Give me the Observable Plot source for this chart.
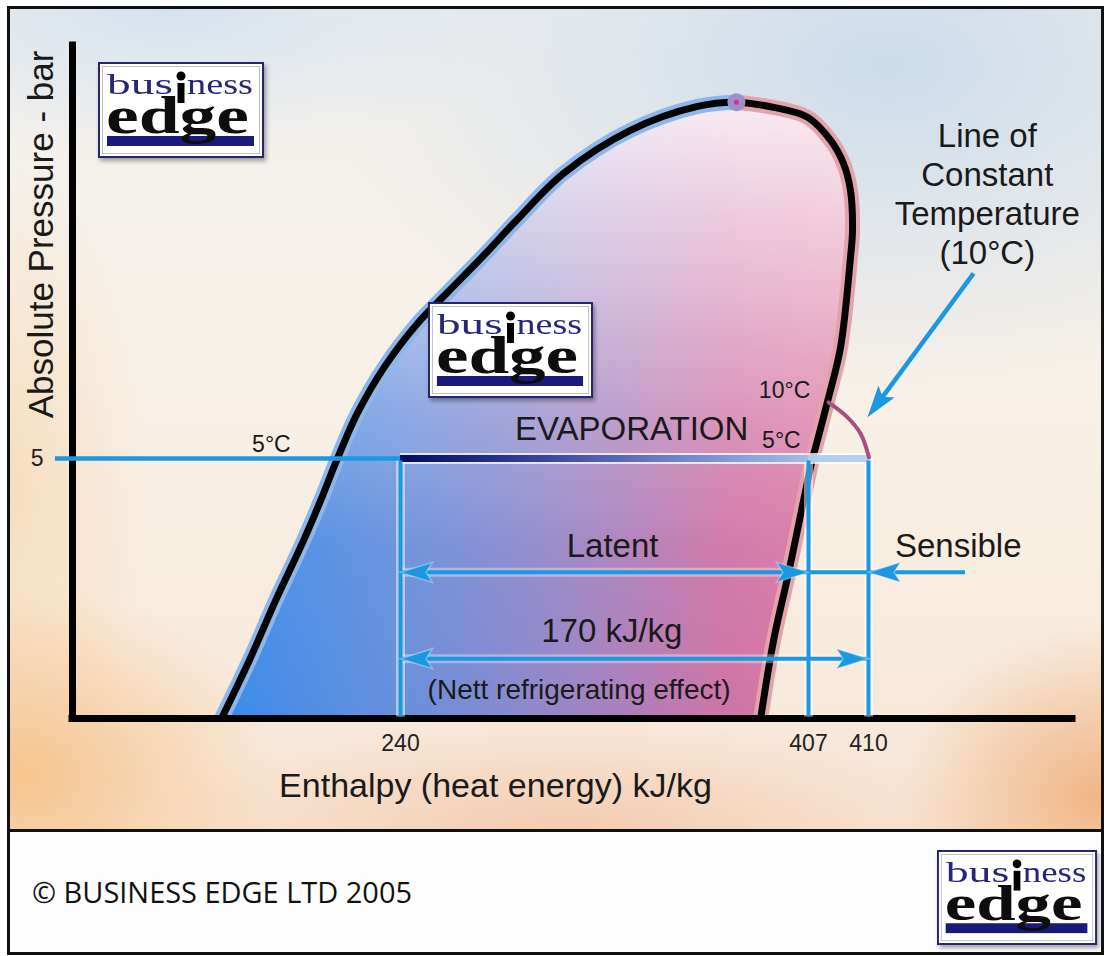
<!DOCTYPE html>
<html>
<head>
<meta charset="utf-8">
<script src="https://cdn.jsdelivr.net/npm/d3@7"></script>
<script src="https://cdn.jsdelivr.net/npm/@observablehq/plot@0.6"></script>
<style>
html,body{margin:0;padding:0;background:#fff;}
#wrap{position:relative;width:1104px;height:956px;overflow:hidden;font-family:"Liberation Sans",Arial,sans-serif;}
#bg{position:absolute;left:7px;top:6px;width:1097px;height:826px;
background:
 radial-gradient(ellipse 260px 190px at 15px 770px, rgba(246,192,135,.9), rgba(246,192,135,0)),
 radial-gradient(ellipse 200px 170px at 1090px 790px, rgba(240,176,126,.9), rgba(240,176,126,0)),
 radial-gradient(ellipse 430px 110px at 560px 820px, rgba(242,190,158,.65), rgba(242,190,158,0)),
 radial-gradient(ellipse 140px 320px at 0px 480px, rgba(245,214,172,.7), rgba(245,214,172,0)),
 radial-gradient(ellipse 560px 330px at 880px 60px, rgba(204,219,234,.95), rgba(204,219,234,0)),
 radial-gradient(ellipse 380px 150px at 160px 0px, rgba(212,225,238,.95), rgba(212,225,238,0)),
 linear-gradient(180deg, #f1f0ee 0%, #f8f1e8 45%, #f7e7d6 100%);}
#chart{position:absolute;left:0;top:0;}
#sep{position:absolute;left:7px;top:829px;width:1097px;height:3px;background:#111;}
#footer{position:absolute;left:7px;top:832px;width:1097px;height:124px;background:#fdfdfd;}
#border{position:absolute;left:7px;top:6px;width:1097px;height:949px;border:3px solid #111;box-sizing:border-box;pointer-events:none;}
.logo{position:absolute;filter:drop-shadow(2px 3px 2px rgba(0,0,0,.35));line-height:0;}
</style>
</head>
<body>
<div id="wrap">
  <div id="bg"></div>
  <div id="chart"></div>
  <div id="sep"></div>
  <div id="footer"></div>
  <div id="copy" style="position:absolute;left:0;top:832px;line-height:0;"></div>
  <div class="logo" id="logo1" style="left:98px;top:62px;"></div>
  <div class="logo" id="logo2" style="left:428px;top:302px;"></div>
  <div class="logo" id="logo3" style="left:937px;top:850px;"></div>
  <div id="border"></div>
</div>
<script>
// ---------- scale configuration (schematic enthalpy axis is piecewise) ----------
const xDomain = [100, 240, 407, 410, 450];
const xRange  = [72, 400, 808, 868, 1072];
const yDomain = [0, 12.94];
const yRange  = [718, 45];

// ---------- data (enthalpy kJ/kg, absolute pressure bar) ----------
const liquidSide = [
  {h:163.6, p:0}, {h:175.5, p:1.12}, {h:187.1, p:2.31}, {h:198.6, p:3.42},
  {h:205.9, p:4.19}, {h:213.1, p:5.0}, {h:221.6, p:5.87}, {h:233.6, p:6.79},
  {h:247.4, p:7.62}, {h:259.2, p:8.19}, {h:274.8, p:8.94}, {h:287.1, p:9.56},
  {h:306.7, p:10.48}, {h:334.1, p:11.31}, {h:361.6, p:11.77}, {h:377.5, p:11.85}
];
const vapourSide = [
  {h:377.5, p:11.85}, {h:392.7, p:11.75}, {h:406.6, p:11.56}, {h:408.1, p:11.12},
  {h:408.75, p:10.67}, {h:409.1, p:10.15}, {h:409.2, p:9.38}, {h:409.1, p:8.87},
  {h:408.6, p:7.13}, {h:408.0, p:6.17}, {h:407.35, p:5.21}, {h:407.2, p:5.0},
  {h:398.8, p:2.79}, {h:392.7, p:1.5}, {h:387.4, p:0}
];
const criticalPoint = {h:377.5, p:11.85};
const constTemp10 = [{h:408.0, p:6.08}, {h:408.9, p:5.81}, {h:409.6, p:5.48}, {h:410.1, p:5.02}];

const evapPressure = 5;
const hIn = 240, hSatVapour = 407, hOut = 410;
const enthalpyTicks = [240, 407, 410];
const pressureTicks = [5];
const guideStartH = 92.7;
const latentP = 2.81, nettP = 1.15;
const sensibleStartH = 429;
const pointerFrom = {h:430.6, p:8.56};
const pointerTo = {h:409.95, p:5.79};

const bigLabels = [
  {text:"Latent", h:326.8, p:3.30},
  {text:"170 kJ/kg", h:326.5, p:1.68},
  {text:"EVAPORATION", h:334.6, p:5.55},
  {text:"Sensible", h:427.6, p:3.30}
];
const noteLabel = [{text:"Line of\nConstant\nTemperature\n(10°C)", h:433.3, p:10.1}];
const tempLabels = [
  {text:"5°C", h:184.9, p:5.26},
  {text:"10°C", h:397.2, p:6.31},
  {text:"5°C", h:395.9, p:5.35}
];
const nettLabel = [{text:"(Nett refrigerating effect)", h:313.1, p:0.55}];
const yTitle = "Absolute Pressure - bar";
const xTitle = "Enthalpy (heat energy) kJ/kg";

// ---------- helpers ----------
const sx = d3.scaleLinear(xDomain, xRange);
const sy = d3.scaleLinear(yDomain, yRange);
function head(angle) {
  const L = 32, W = 10, N = 0.8;
  const c = Math.cos(angle), s = Math.sin(angle);
  const pts = [[0,0],[-L,-W],[-L*N,0],[-L,W]].map(([x,y]) => [x*c - y*s, x*s + y*c]);
  return {draw(ctx) { ctx.moveTo(pts[0][0], pts[0][1]); for (const q of pts.slice(1)) ctx.lineTo(q[0], q[1]); ctx.closePath(); }};
}
const headRight = head(0), headLeft = head(Math.PI);
const pointerAngle = Math.atan2(sy(pointerTo.p) - sy(pointerFrom.p), sx(pointerTo.h) - sx(pointerFrom.h));
const headPointer = head(pointerAngle);

const dome = [...liquidSide, ...vapourSide.slice(1)];
const BLUE = "#1b98e0";

const plot = Plot.plot({
  width: 1104, height: 830,
  marginLeft: 72, marginRight: 32, marginTop: 45, marginBottom: 112,
  x: {type: "linear", domain: xDomain, range: xRange},
  y: {type: "linear", domain: yDomain, range: yRange},
  style: {fontFamily: "'Liberation Sans', Arial, sans-serif", background: "transparent", overflow: "visible", color: "#1a1a1a"},
  marks: [
    // dome fill
    Plot.line(dome, {x:"h", y:"p", fill:"url(#domeFill)", stroke:"none", curve:"catmull-rom"}),
    Plot.line(dome, {x:"h", y:"p", fill:"url(#domeSheen)", stroke:"none", curve:"catmull-rom"}),
    // glows
    Plot.line(liquidSide, {x:"h", y:"p", stroke:"#8db6ea", strokeWidth:15, strokeLinecap:"butt", curve:"catmull-rom"}),
    Plot.line(vapourSide, {x:"h", y:"p", stroke:"#e2a3ad", strokeWidth:15, strokeLinecap:"butt", curve:"catmull-rom"}),
    Plot.line(dome, {x:"h", y:"p", stroke:"#050505", strokeWidth:7, strokeLinecap:"butt", curve:"catmull-rom"}),
    Plot.dot([criticalPoint], {x:"h", y:"p", r:9, fill:"#9d8fcb", stroke:"none"}),
    Plot.dot([criticalPoint], {x:"h", y:"p", r:2.5, fill:"#e0307a", stroke:"none"}),
    // axes lines
    Plot.ruleY([0], {x1: xDomain[0], x2: xDomain[xDomain.length-1], stroke:"#000", strokeWidth:7, strokeLinecap:"square"}),
    Plot.ruleX([xDomain[0]], {y1: 0, y2: yDomain[1], stroke:"#000", strokeWidth:7, strokeLinecap:"square"}),
    // white highlights under lines
    Plot.ruleX([hIn, hSatVapour, hOut], {y1:0.03, y2:evapPressure, stroke:"#fff", strokeOpacity:0.5, strokeWidth:9}),
    Plot.ruleY([latentP, nettP], {x1:hIn, x2:hOut, stroke:"#fff", strokeOpacity:0.35, strokeWidth:9}),
    // 5 bar guide and evaporation bar
    Plot.ruleY([evapPressure], {x1:guideStartH, x2:hIn, stroke:BLUE, strokeWidth:4.5}),
    Plot.ruleY([evapPressure], {x1:hIn, x2:hOut + 0.15, stroke:"#fff", strokeOpacity:0.75, strokeWidth:11}),
    Plot.ruleY([evapPressure], {x1:hIn, x2:hOut + 0.15, stroke:"url(#evapBar)", strokeWidth:7}),
    // vertical enthalpy lines
    Plot.ruleX([hIn, hSatVapour, hOut], {y1:0.03, y2:evapPressure - 0.05, stroke:BLUE, strokeWidth:4}),
    // arrow shafts
    Plot.ruleY([latentP, nettP], {x1:hIn, x2:hOut, stroke:BLUE, strokeWidth:4}),
    Plot.ruleY([latentP], {x1:hOut, x2:sensibleStartH, stroke:BLUE, strokeWidth:4}),
    Plot.arrow([{h1:pointerFrom.h, p1:pointerFrom.p, h2:pointerTo.h, p2:pointerTo.p}],
      {x1:"h1", y1:"p1", x2:"h2", y2:"p2", headLength:0, insetEnd:14, stroke:BLUE, strokeWidth:4.5, strokeLinecap:"butt"}),
    // arrow heads
    Plot.dot([{h:hIn, p:latentP}, {h:hIn, p:nettP}, {h:hOut, p:latentP}],
      {x:"h", y:"p", symbol: headLeft, fill:BLUE, stroke:"#fff", strokeOpacity:0.35, strokeWidth:1.5}),
    Plot.dot([{h:hSatVapour, p:latentP}, {h:hOut, p:nettP}],
      {x:"h", y:"p", symbol: headRight, fill:BLUE, stroke:"#fff", strokeOpacity:0.35, strokeWidth:1.5}),
    Plot.dot([pointerTo], {x:"h", y:"p", symbol: headPointer, fill:BLUE, stroke:"none"}),
    // constant temperature line
    Plot.line(constTemp10, {x:"h", y:"p", stroke:"#a5507f", strokeWidth:4, curve:"catmull-rom"}),
    // tick labels
    Plot.axisX(enthalpyTicks, {anchor:"bottom", tickSize:0, tickPadding:16, fontSize:23, label:null, fill:"#222", tickFormat: d => `${d}`}),
    Plot.axisY(pressureTicks, {anchor:"left", tickSize:0, tickPadding:29, fontSize:23, label:null, fill:"#222", tickFormat: d => `${d}`}),
    // labels
    Plot.text(bigLabels, {x:"h", y:"p", text:"text", fontSize:33, fill:"#1a1a1a", lineAnchor:"middle"}),
    Plot.text(noteLabel, {x:"h", y:"p", text:"text", fontSize:33, fill:"#1a1a1a", lineAnchor:"middle", lineHeight:1.18}),
    Plot.text(tempLabels, {x:"h", y:"p", text:"text", fontSize:23, fill:"#1a1a1a", lineAnchor:"middle"}),
    Plot.text(nettLabel, {x:"h", y:"p", text:"text", fontSize:28, fill:"#1a1a1a", lineAnchor:"middle"}),
    Plot.text([yTitle], {text: d => d, frameAnchor:"top-left", dx:-31, dy:189, rotate:-90, fontSize:35, fill:"#1a1a1a", textAnchor:"middle", lineAnchor:"middle"}),
    Plot.text([xTitle], {text: d => d, frameAnchor:"bottom", dx:-77, dy:68, fontSize:34, fill:"#1a1a1a", textAnchor:"middle", lineAnchor:"middle"})
  ]
});

const x0 = sx(hIn), x1 = sx(hOut + 0.15);
const f = (sx(hSatVapour) - x0) / (x1 - x0);
d3.select(plot).insert("defs", ":first-child").html(`
  <linearGradient id="domeFill" x1="0" y1="0" x2="1" y2="0">
    <stop offset="0" stop-color="#3a8ceb"/>
    <stop offset="0.3" stop-color="#6b8fdb"/>
    <stop offset="0.55" stop-color="#9a86c6"/>
    <stop offset="0.8" stop-color="#cf74a6"/>
    <stop offset="1" stop-color="#df7aa2"/>
  </linearGradient>
  <linearGradient id="domeSheen" x1="0" y1="0" x2="0" y2="1">
    <stop offset="0" stop-color="#fff" stop-opacity="0.85"/>
    <stop offset="0.25" stop-color="#fff" stop-opacity="0.55"/>
    <stop offset="0.5" stop-color="#fff" stop-opacity="0.25"/>
    <stop offset="0.72" stop-color="#fff" stop-opacity="0.05"/>
    <stop offset="1" stop-color="#fff" stop-opacity="0"/>
  </linearGradient>
  <linearGradient id="evapBar" gradientUnits="userSpaceOnUse" x1="${x0}" y1="0" x2="${x1}" y2="0">
    <stop offset="0" stop-color="#000a6a"/>
    <stop offset="${0.3*f}" stop-color="#2f3c9c"/>
    <stop offset="${0.65*f}" stop-color="#6a7ec8"/>
    <stop offset="${f}" stop-color="#a3bce8"/>
    <stop offset="${f}" stop-color="#afcdf2"/>
    <stop offset="1" stop-color="#b3d2f5"/>
  </linearGradient>`);
document.getElementById("chart").appendChild(plot);

function logo(w, h) {
  const serif = "'Liberation Serif','DejaVu Serif',serif";
  return `<svg width="${w}" height="${h}" viewBox="0 0 166 96" preserveAspectRatio="none">
  <rect x="1" y="1" width="164" height="94" fill="#fff" stroke="#26266e" stroke-width="2"/>
  <rect x="4.5" y="4.5" width="157" height="87" fill="none" stroke="#c0c0d2" stroke-width="1"/>
  <rect x="9" y="74" width="147" height="10" fill="#1a1a7c"/>
  <text x="9" y="32" textLength="66" lengthAdjust="spacingAndGlyphs" font-family="${serif}" font-size="29" fill="#26267c">bus</text>
  <circle cx="83" cy="14" r="4.5" fill="#000"/>
  <rect x="79.5" y="21" width="7" height="20" fill="#000"/>
  <text x="89" y="32" textLength="66" lengthAdjust="spacingAndGlyphs" font-family="${serif}" font-size="29" fill="#26267c">ness</text>
  <text x="8" y="71" textLength="143" lengthAdjust="spacingAndGlyphs" font-family="${serif}" font-weight="bold" font-size="52" fill="#0d0d0d">edge</text>
  </svg>`;
}
document.getElementById("logo1").innerHTML = logo(166, 96);
document.getElementById("logo2").innerHTML = logo(165, 96);
document.getElementById("logo3").innerHTML = logo(160, 95);
document.getElementById("copy").innerHTML =
  `<svg width="600" height="120"><text x="32" y="71" textLength="380" lengthAdjust="spacingAndGlyphs" font-family="'Open Sans','Noto Sans',sans-serif" font-size="29" fill="#111">© BUSINESS EDGE LTD 2005</text></svg>`;
</script>
</body>
</html>
